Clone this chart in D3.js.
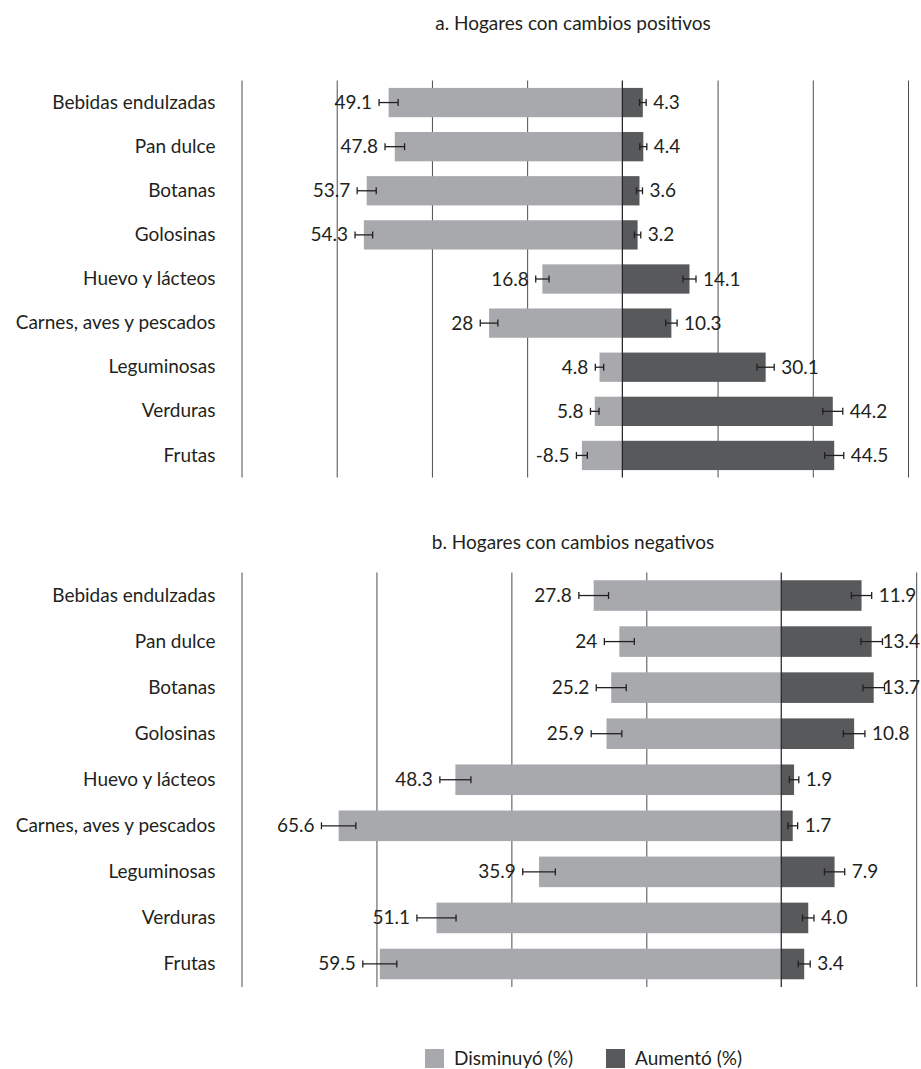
<!DOCTYPE html>
<html>
<head>
<meta charset="utf-8">
<script src="https://cdn.jsdelivr.net/npm/d3@7"></script>
<style>
  body { margin: 0; background: #fff; }
  svg text { font-family: Lato, "Open Sans", sans-serif; fill: #231f20; }
</style>
</head>
<body>
<svg id="chart" width="921" height="1069"></svg>
<script>
// Food groups, top to bottom
const categories = [
  "Bebidas endulzadas", "Pan dulce", "Botanas", "Golosinas", "Huevo y lácteos",
  "Carnes, aves y pescados", "Leguminosas", "Verduras", "Frutas"
];

// a. Households with positive changes (%)
const decreasedA = [49.1, 47.8, 53.7, 54.3, 16.8, 28, 4.8, 5.8, 8.5];
const decreasedLabelsA = ["49.1", "47.8", "53.7", "54.3", "16.8", "28", "4.8", "5.8", "-8.5"];
const decreasedErrA = [2.0, 2.05, 2.0, 1.85, 1.4, 1.85, 0.88, 0.9, 1.15];
const increasedA = [4.3, 4.4, 3.6, 3.2, 14.1, 10.3, 30.1, 44.2, 44.5];
const increasedLabelsA = ["4.3", "4.4", "3.6", "3.2", "14.1", "10.3", "30.1", "44.2", "44.5"];
const increasedErrA = [0.7, 0.74, 0.63, 0.67, 1.37, 1.2, 1.8, 2.1, 2.0];

// b. Households with negative changes (%)
const decreasedB = [27.8, 24, 25.2, 25.9, 48.3, 65.6, 35.9, 51.1, 59.5];
const decreasedLabelsB = ["27.8", "24", "25.2", "25.9", "48.3", "65.6", "35.9", "51.1", "59.5"];
const decreasedErrB = [2.2, 2.22, 2.22, 2.27, 2.3, 2.55, 2.42, 2.9, 2.52];
const increasedB = [11.9, 13.4, 13.7, 10.8, 1.9, 1.7, 7.9, 4.0, 3.4];
const increasedLabelsB = ["11.9", "13.4", "13.7", "10.8", "1.9", "1.7", "7.9", "4.0", "3.4"];
const increasedErrB = [1.5, 1.6, 1.6, 1.6, 0.7, 0.73, 1.5, 0.85, 0.89];

const legendLabels = ["Disminuyó (%)", "Aumentó (%)"];

const WIDTH = 921;
const COLOR_DEC = "#a7a9ac";
const COLOR_INC = "#58595b";
const INK = "#231f20";
const GRID = "#4d4d4f";
const FONT = 19;

const svg = d3.select("#chart");

function drawPanel(cfg) {
  const x = d3.scaleLinear().domain(cfg.domain).range([241.5, cfg.right]);
  const y = d3.scaleBand().domain(categories).range([cfg.top, cfg.bottom]);
  const barH = y.bandwidth() * 0.664;
  const g = svg.append("g");

  g.append("text")
    .attr("x", 573).attr("y", cfg.titleY)
    .attr("text-anchor", "middle")
    .style("font-size", FONT + "px")
    .text(cfg.title);

  // vertical gridlines every 20 points
  const ticks = d3.range(cfg.domain[0], cfg.domain[1] + 1, 20).filter(t => t !== 0);
  const grid = g.append("g")
    .attr("transform", `translate(0,${cfg.bottom})`)
    .call(d3.axisBottom(x).tickValues(ticks).tickSize(-(cfg.bottom - cfg.top)).tickFormat(""));
  grid.select(".domain").remove();
  grid.selectAll(".tick line").attr("stroke", GRID).attr("stroke-width", 1);

  // category labels
  const yAxis = g.append("g")
    .attr("transform", `translate(241.5,0)`)
    .call(d3.axisLeft(y).tickSize(0).tickPadding(26));
  yAxis.select(".domain").remove();
  yAxis.selectAll("text").style("font-size", FONT + "px").attr("fill", INK)
    .style("font-family", "Lato, 'Open Sans', sans-serif");

  const rows = categories.map((c, i) => ({
    c, dec: cfg.dec[i], decL: cfg.decL[i], decE: cfg.decE[i],
    inc: cfg.inc[i], incL: cfg.incL[i], incE: cfg.incE[i]
  }));
  const cy = d => y(d.c) + y.bandwidth() / 2;

  // decreased bars (drawn leftwards from zero)
  g.selectAll("rect.dec").data(rows).join("rect")
    .attr("x", d => x(-d.dec)).attr("width", d => x(0) - x(-d.dec))
    .attr("y", d => cy(d) - barH / 2).attr("height", barH)
    .attr("fill", COLOR_DEC);

  // increased bars
  g.selectAll("rect.inc").data(rows).join("rect")
    .attr("x", x(0)).attr("width", d => x(d.inc) - x(0))
    .attr("y", d => cy(d) - barH / 2).attr("height", barH)
    .attr("fill", COLOR_INC);

  // zero line
  g.append("line")
    .attr("x1", x(0)).attr("x2", x(0))
    .attr("y1", cfg.top).attr("y2", cfg.bottom)
    .attr("stroke", INK).attr("stroke-width", 1.2);

  // error bars
  const errs = [];
  rows.forEach(d => {
    errs.push({ lo: -d.dec - d.decE, hi: -d.dec + d.decE, cy: cy(d) });
    errs.push({ lo: d.inc - d.incE, hi: d.inc + d.incE, cy: cy(d) });
  });
  const eg = g.selectAll("g.err").data(errs).join("g").attr("class", "err")
    .attr("stroke", INK).attr("stroke-width", 1.3);
  eg.append("line").attr("x1", d => x(d.lo)).attr("x2", d => x(d.hi))
    .attr("y1", d => d.cy).attr("y2", d => d.cy);
  eg.append("line").attr("x1", d => x(d.lo)).attr("x2", d => x(d.lo))
    .attr("y1", d => d.cy - 3.5).attr("y2", d => d.cy + 3.5);
  eg.append("line").attr("x1", d => x(d.hi)).attr("x2", d => x(d.hi))
    .attr("y1", d => d.cy - 3.5).attr("y2", d => d.cy + 3.5);

  // value labels
  const gap = 7;
  g.selectAll("text.decl").data(rows).join("text")
    .attr("x", d => x(-d.dec - d.decE) - gap)
    .attr("y", d => cy(d) + 6.5)
    .attr("text-anchor", "end")
    .style("font-size", FONT + "px")
    .text(d => d.decL);
  g.selectAll("text.incl").data(rows).join("text")
    .attr("y", d => cy(d) + 6.5)
    .style("font-size", FONT + "px")
    .text(d => d.incL)
    .attr("x", function (d) {
      // keep the label inside the drawing area
      const w = this.getComputedTextLength();
      return Math.min(x(d.inc + d.incE) + gap, WIDTH - 1 - w);
    });
}

drawPanel({
  title: "a. Hogares con cambios positivos", titleY: 30,
  domain: [-80, 60], right: 908, top: 80.5, bottom: 477.5,
  dec: decreasedA, decL: decreasedLabelsA, decE: decreasedErrA,
  inc: increasedA, incL: increasedLabelsA, incE: increasedErrA
});

drawPanel({
  title: "b. Hogares con cambios negativos", titleY: 549,
  domain: [-80, 20], right: 916.2, top: 572.5, bottom: 987,
  dec: decreasedB, decL: decreasedLabelsB, decE: decreasedErrB,
  inc: increasedB, incL: increasedLabelsB, incE: increasedErrB
});

// legend
const legend = svg.append("g");
const legendItems = [
  { label: legendLabels[0], color: COLOR_DEC, x: 425 },
  { label: legendLabels[1], color: COLOR_INC, x: 606 }
];
legend.selectAll("rect").data(legendItems).join("rect")
  .attr("x", d => d.x).attr("y", 1049).attr("width", 19).attr("height", 19)
  .attr("fill", d => d.color);
legend.selectAll("text").data(legendItems).join("text")
  .attr("x", d => d.x + 29).attr("y", 1065)
  .style("font-size", FONT + "px")
  .text(d => d.label);
</script>
</body>
</html>
